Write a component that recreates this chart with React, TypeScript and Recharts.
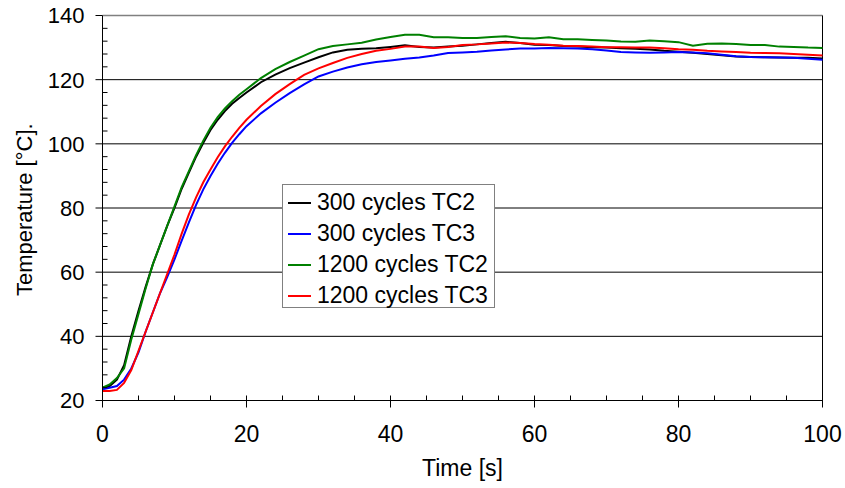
import { LineChart, Line, XAxis, YAxis, CartesianGrid, ReferenceLine, Legend } from "recharts";

const FONT = "'Liberation Sans', Arial, sans-serif";

const times = [
  0, 1, 2, 3, 4, 5, 6, 7, 8, 9, 10, 11, 12, 13, 14, 15, 16, 17, 18, 19, 20,
  22, 24, 26, 28, 30, 32, 34, 36, 38, 40, 42, 44, 46, 48, 50, 52, 54, 56, 58, 60,
  62, 64, 66, 68, 70, 72, 74, 76, 78, 80, 82, 84, 86, 88, 90, 92, 94, 96, 98, 100,
];

const tc2_300 = [
  24.0, 24.5, 26.5, 31.0, 40.0, 48.0, 55.5, 62.5, 68.5, 74.5, 80.0, 86.0, 91.0, 96.0, 100.3, 104.3, 107.5, 110.2, 112.5, 114.3, 116.0,
  119.2, 121.6, 123.6, 125.3, 127.0, 128.5, 129.3, 129.6, 129.8, 130.2, 130.7, 130.2, 130.0, 130.3, 130.6, 131.0, 131.4, 131.8, 131.4, 130.9,
  130.8, 130.5, 130.3, 130.1, 130.0, 129.8, 129.6, 129.4, 129.0, 128.7, 128.4, 128.0, 127.6, 127.2, 127.1, 127.0, 126.9, 126.8, 126.8, 126.6,
];

const tc3_300 = [
  23.5, 24.0, 24.5, 26.5, 30.0, 35.0, 41.5, 47.5, 53.5, 58.5, 64.0, 69.8, 75.5, 81.0, 85.8, 90.0, 93.8, 97.2, 100.3, 103.0, 105.5,
  109.5, 112.8, 115.8, 118.5, 121.0, 122.5, 123.8, 124.8, 125.5, 126.0, 126.5, 126.9, 127.5, 128.3, 128.5, 128.7, 129.1, 129.4, 129.7, 129.7,
  129.9, 129.8, 129.7, 129.5, 129.1, 128.6, 128.5, 128.4, 128.5, 128.6, 128.5, 128.2, 127.8, 127.3, 127.1, 127.0, 126.9, 126.8, 126.5, 126.2,
];

const tc2_1200 = [
  24.0, 25.0, 27.0, 30.0, 39.0, 47.0, 55.0, 62.5, 68.5, 74.5, 80.5, 86.5, 91.5, 96.5, 101.0, 105.0, 108.3, 111.0, 113.3, 115.3, 117.0,
  120.5, 123.3, 125.5, 127.5, 129.5, 130.5, 131.0, 131.5, 132.5, 133.3, 134.0, 134.0, 133.2, 133.2, 133.0, 133.0, 133.3, 133.5, 133.0, 132.8,
  133.2, 132.6, 132.6, 132.4, 132.2, 131.9, 131.8, 132.2, 132.0, 131.7, 130.6, 131.2, 131.3, 131.1, 130.8, 130.8, 130.3, 130.2, 130.0, 129.9,
];

const tc3_1200 = [
  23.0, 23.0, 23.3, 25.5, 29.5, 35.5, 41.5, 47.5, 53.5, 59.5, 65.5, 72.0, 78.0, 83.3, 88.0, 92.0, 95.8, 99.2, 102.2, 105.0, 107.5,
  111.8, 115.5, 118.6, 121.5, 123.5, 125.2, 126.8, 128.0, 129.0, 129.6, 130.3, 130.3, 129.9, 130.2, 130.8, 131.0, 131.3, 131.6, 131.4, 131.1,
  130.9, 130.6, 130.5, 130.3, 130.1, 130.1, 130.0, 130.0, 129.8, 129.5, 129.3, 129.0, 128.8, 128.6, 128.4, 128.3, 128.2, 128.0, 127.8, 127.5,
];

const seriesInfo = [
  { key: "a", name: "300 cycles TC2", color: "#000000" },
  { key: "b", name: "300 cycles TC3", color: "#0000FF" },
  { key: "c", name: "1200 cycles TC2", color: "#008000" },
  { key: "d", name: "1200 cycles TC3", color: "#FF0000" },
];

const xTicks = [0, 5, 10, 15, 20, 25, 30, 35, 40, 45, 50, 55, 60, 65, 70, 75, 80, 85, 90, 95, 100];
const yTicks = [20, 24, 28, 32, 36, 40, 44, 48, 52, 56, 60, 64, 68, 72, 76, 80, 84, 88, 92, 96, 100, 104, 108, 112, 116, 120, 124, 128, 132, 136, 140];
const gridValues = [40, 60, 80, 100, 120];

const data = times.map((t, i) => ({
  t,
  a: tc2_300[i],
  b: tc3_300[i],
  c: tc2_1200[i],
  d: tc3_1200[i],
}));

function XTick(props: any) {
  const { x, y, payload } = props;
  const v = payload.value;
  if (v % 20 !== 0) {
    return <line x1={x} x2={x} y1={y} y2={y - 5} stroke="#000" strokeWidth={1} />;
  }
  return (
    <g>
      <line x1={x} x2={x} y1={y - 5} y2={y + 7} stroke="#000" strokeWidth={1} />
      <text x={x} y={y + 33} dy="0.36em" textAnchor="middle" fontSize={23} fontFamily={FONT} fill="#000">
        {v}
      </text>
    </g>
  );
}

function YTick(props: any) {
  const { x, y, payload } = props;
  const v = payload.value;
  if (v % 20 !== 0) {
    return <line x1={x} x2={x + 5} y1={y} y2={y} stroke="#000" strokeWidth={1} />;
  }
  return (
    <g>
      <line x1={x - 7} x2={x} y1={y} y2={y} stroke="#000" strokeWidth={1} />
      <text x={x - 18} y={y} dy="0.36em" textAnchor="end" fontSize={22} fontFamily={FONT} fill="#000">
        {v}
      </text>
    </g>
  );
}

function LegendBox() {
  return (
    <div
      style={{
        width: 213,
        height: 124,
        border: "1px solid #808080",
        background: "#fff",
        boxSizing: "border-box",
        paddingTop: 2,
        fontFamily: FONT,
        fontSize: 23,
      }}
    >
      {seriesInfo.map((s) => (
        <div key={s.key} style={{ display: "flex", alignItems: "center", height: 31 }}>
          <div style={{ width: 23, height: 2, background: s.color, marginLeft: 5, marginRight: 6 }} />
          <span style={{ color: "#000", whiteSpace: "nowrap" }}>{s.name}</span>
        </div>
      ))}
    </div>
  );
}

export default function App() {
  return (
    <div style={{ position: "absolute", left: 0, top: 0, width: 845, height: 488, background: "#fff" }}>
      <LineChart width={845} height={488} data={data} margin={{ top: 15.5, right: 22.5, bottom: 0, left: 0 }}>
        <CartesianGrid horizontalValues={gridValues} vertical={false} stroke="#000" strokeWidth={1} />
        <ReferenceLine y={140} stroke="#808080" strokeWidth={1.5} />
        <ReferenceLine x={100} stroke="#000" strokeWidth={1} />
        <XAxis
          dataKey="t"
          type="number"
          domain={[0, 100]}
          ticks={xTicks}
          interval={0}
          height={87.5}
          tickSize={0}
          tickMargin={0}
          tickLine={false}
          axisLine={{ stroke: "#000", strokeWidth: 1 }}
          tick={<XTick />}
          label={{ value: "Time [s]", position: "insideBottom", offset: 12, fontSize: 23, fontFamily: FONT, fill: "#000" }}
        />
        <YAxis
          type="number"
          domain={[20, 140]}
          ticks={yTicks}
          interval={0}
          width={102.5}
          tickSize={0}
          tickMargin={0}
          tickLine={false}
          axisLine={{ stroke: "#000", strokeWidth: 1 }}
          tick={<YTick />}
          label={{
            value: "Temperature [°C].",
            angle: -90,
            position: "insideLeft",
            offset: 24,
            dy: 88,
            fontSize: 22,
            fontFamily: FONT,
            fill: "#000",
          }}
        />
        <Legend
          layout="vertical"
          align="center"
          verticalAlign="middle"
          content={<LegendBox />}
          wrapperStyle={{ left: 282, top: 184, width: 213, height: 124 }}
        />
        {seriesInfo.map((s) => (
          <Line
            key={s.key}
            type="linear"
            dataKey={s.key}
            name={s.name}
            stroke={s.color}
            strokeWidth={2}
            dot={false}
            isAnimationActive={false}
          />
        ))}
      </LineChart>
    </div>
  );
}
